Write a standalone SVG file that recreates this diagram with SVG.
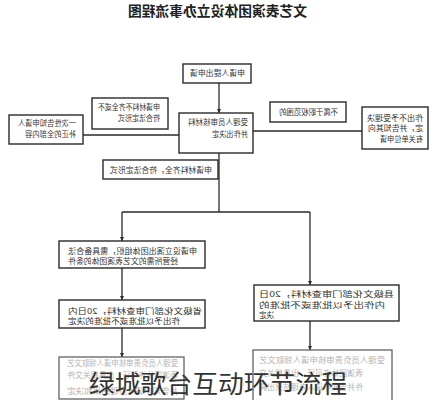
<svg xmlns="http://www.w3.org/2000/svg" width="435" height="400" viewBox="0 0 435 400">
<style>
  .box { fill: #ffffff; stroke: #2a2a2a; stroke-width: 1.4; }
  .lbox { fill: #ffffff; stroke: #555555; stroke-width: 1.2; }
  .t { font-family: "Noto Sans CJK SC", "Noto Sans", sans-serif; font-size: 7.5px; fill: #333333; }
  .tb { font-family: "Noto Sans CJK SC", "Noto Sans", sans-serif; font-size: 8px; fill: #333333; }
  .tg { font-family: "Noto Sans CJK SC", "Noto Sans", sans-serif; font-size: 7.5px; fill: #b4b4b4; }
  .title { font-family: "Noto Sans CJK SC", "Noto Sans", sans-serif; font-size: 14px; font-weight: bold; fill: #222222; }
  .line { fill: none; stroke: #2a2a2a; stroke-width: 1.3; }
  .over { font-family: "Noto Sans CJK SC", "Noto Sans", sans-serif; font-size: 25px; fill: #333333; }
</style>
<defs>
  <marker id="arr" viewBox="0 0 10 10" refX="10" refY="5" markerWidth="4" markerHeight="4" orient="auto" markerUnits="userSpaceOnUse">
    <path d="M0,0 L10,5 L0,10 z" fill="#2a2a2a"/>
  </marker>
</defs>
<rect width="435" height="400" fill="#ffffff"/>

<g id="title">
  <text class="title" transform="scale(-1,1)" x="-307" y="16" textLength="179" lengthAdjust="spacingAndGlyphs">文艺表演团体设立办事流程图</text>
</g>

<g id="connectors">
  <line class="line" x1="219" y1="83" x2="219" y2="113" marker-end="url(#arr)"/>
  <line class="line" x1="219" y1="153" x2="219" y2="212"/>
  <line class="line" x1="122" y1="212" x2="310" y2="212"/>
  <line class="line" x1="122" y1="212" x2="122" y2="241" marker-end="url(#arr)"/>
  <line class="line" x1="310" y1="212" x2="310" y2="285" marker-end="url(#arr)"/>
  <line class="line" x1="122" y1="268" x2="122" y2="300" marker-end="url(#arr)"/>
  <line class="line" x1="122" y1="328" x2="122" y2="357" marker-end="url(#arr)"/>
  <line class="line" x1="310" y1="321" x2="310" y2="350" marker-end="url(#arr)"/>
  <line class="line" x1="83" y1="135" x2="179" y2="135"/>
  <line class="line" x1="253" y1="131" x2="362" y2="131"/>
</g>

<g id="apply">
  <rect class="box" x="183" y="64" width="68" height="19"/>
  <text class="t" transform="scale(-1,1)" x="-245" y="76" textLength="55" lengthAdjust="spacingAndGlyphs">申请人提出申请</text>
</g>

<g id="review">
  <rect class="box" x="179" y="113" width="74" height="40"/>
  <text class="t" transform="scale(-1,1)" x="-248" y="125" textLength="60" lengthAdjust="spacingAndGlyphs">受理人员审核材料</text>
  <text class="t" transform="scale(-1,1)" x="-248" y="137" textLength="36" lengthAdjust="spacingAndGlyphs">并作出决定</text>
</g>

<g id="not-scope">
  <rect class="box" x="270" y="102" width="76" height="20"/>
  <text class="t" transform="scale(-1,1)" x="-338" y="115" textLength="59" lengthAdjust="spacingAndGlyphs">不属于职权范围的</text>
</g>

<g id="reject">
  <rect class="box" x="362" y="107" width="66" height="42"/>
  <text class="t" transform="scale(-1,1)" x="-423" y="121" textLength="56" lengthAdjust="spacingAndGlyphs">作出不予受理决</text>
  <text class="t" transform="scale(-1,1)" x="-423" y="131" textLength="55" lengthAdjust="spacingAndGlyphs">定，并告知其向</text>
  <text class="t" transform="scale(-1,1)" x="-423" y="142" textLength="43" lengthAdjust="spacingAndGlyphs">有关单位申请</text>
</g>

<g id="notify">
  <rect class="box" x="9" y="115" width="74" height="29"/>
  <text class="t" transform="scale(-1,1)" x="-76" y="126" textLength="58" lengthAdjust="spacingAndGlyphs">一次性告知申请人</text>
  <text class="t" transform="scale(-1,1)" x="-76" y="137" textLength="51" lengthAdjust="spacingAndGlyphs">补正的全部内容</text>
</g>

<g id="incomplete">
  <rect class="box" x="92" y="98" width="76" height="31"/>
  <text class="t" transform="scale(-1,1)" x="-160" y="110" textLength="62" lengthAdjust="spacingAndGlyphs">申请材料不齐全或不</text>
  <text class="t" transform="scale(-1,1)" x="-160" y="121" textLength="42" lengthAdjust="spacingAndGlyphs">符合法定形式</text>
</g>

<g id="complete">
  <rect class="box" x="103" y="160" width="115" height="19"/>
  <text class="t" transform="scale(-1,1)" x="-212" y="173" textLength="102" lengthAdjust="spacingAndGlyphs">申请材料齐全，符合法定形式</text>
</g>

<g id="condition">
  <rect class="box" x="59" y="241" width="146" height="27"/>
  <text class="tb" transform="scale(-1,1)" x="-68" y="254" text-anchor="end" textLength="129" lengthAdjust="spacingAndGlyphs">申请设立演出团体组织，需具备合法</text>
  <text class="tb" transform="scale(-1,1)" x="-68" y="264" text-anchor="end" textLength="110" lengthAdjust="spacingAndGlyphs">经营所需的文艺表演团体的条件</text>
</g>

<g id="province">
  <rect class="box" x="59" y="300" width="146" height="28"/>
  <text class="tb" transform="scale(-1,1)" x="-68" y="314" text-anchor="end" textLength="134" lengthAdjust="spacingAndGlyphs">省级文化部门审查材料，20日内</text>
  <text class="tb" transform="scale(-1,1)" x="-68" y="324" text-anchor="end" textLength="112" lengthAdjust="spacingAndGlyphs">作出予以批准或不批准的决定</text>
</g>

<g id="county">
  <rect class="box" x="254" y="285" width="145" height="36"/>
  <text class="tb" transform="scale(-1,1)" x="-259" y="297" text-anchor="end" textLength="135" lengthAdjust="spacingAndGlyphs">县级文化部门审查材料，20日</text>
  <text class="tb" transform="scale(-1,1)" x="-259" y="307.5" text-anchor="end" textLength="126" lengthAdjust="spacingAndGlyphs">内作出予以批准或不批准的</text>
  <text class="tb" transform="scale(-1,1)" x="-259" y="318" text-anchor="end" textLength="15" lengthAdjust="spacingAndGlyphs">决定</text>
</g>

<g id="license-left">
  <rect class="lbox" x="59" y="357" width="125" height="42"/>
  <text class="tg" transform="scale(-1,1)" x="-67" y="366" text-anchor="end" textLength="111" lengthAdjust="spacingAndGlyphs">受理人员负责审核申请人领取文艺</text>
  <text class="tg" transform="scale(-1,1)" x="-67" y="378" text-anchor="end" textLength="111" lengthAdjust="spacingAndGlyphs">表演团体许可证，出具相关文件</text>
  <text class="tg" transform="scale(-1,1)" x="-67" y="394" text-anchor="end" textLength="111" lengthAdjust="spacingAndGlyphs">并告知申请人办理结果和决定</text>
</g>

<g id="license-right">
  <rect class="lbox" x="253" y="350" width="139" height="52"/>
  <text class="tg" transform="scale(-1,1)" x="-259" y="363" text-anchor="end" textLength="126" lengthAdjust="spacingAndGlyphs">受理人员负责审核申请人领取文艺</text>
  <text class="tg" transform="scale(-1,1)" x="-259" y="376" text-anchor="end" textLength="104" lengthAdjust="spacingAndGlyphs">表演团体许可证，出具相关文</text>
  <text class="tg" transform="scale(-1,1)" x="-259" y="390" text-anchor="end" textLength="104" lengthAdjust="spacingAndGlyphs">件并告知申请人办理结果出具</text>
</g>

<g id="overlay">
  <text class="over" x="89" y="393" textLength="258" lengthAdjust="spacingAndGlyphs">绿城歌台互动环节流程</text>
</g>
</svg>
